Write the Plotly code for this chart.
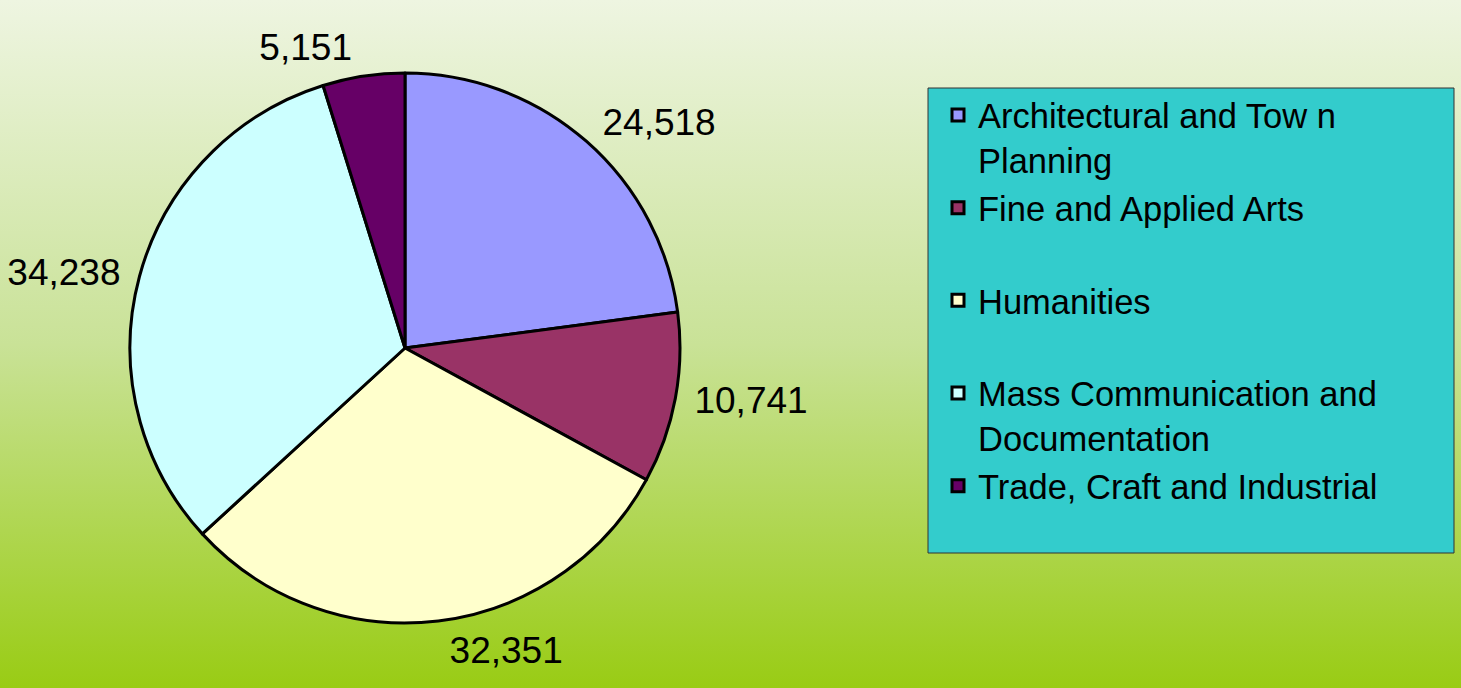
import base64
import plotly.graph_objects as go

# ---- data ----
categories = [
    "Architectural and Tow n<br>Planning",
    "Fine and Applied Arts<br> ",
    "Humanities<br> ",
    "Mass Communication and<br>Documentation",
    "Trade, Craft and Industrial<br> ",
]
values = [24518, 10741, 32351, 34238, 5151]
slice_colors = ["#9999FF", "#993366", "#FFFFCC", "#CCFFFF", "#660066"]

W, H = 1461, 688
FONT = "Liberation Sans, Arial, sans-serif"

# background gradient as an inline SVG image
svg = f'''<svg xmlns="http://www.w3.org/2000/svg" width="{W}" height="{H}" preserveAspectRatio="none">
<defs><linearGradient id="g" x1="0" y1="0" x2="0" y2="1">
<stop offset="0" stop-color="#EEF5E1"/>
<stop offset="0.5" stop-color="#C9E297"/>
<stop offset="1" stop-color="#99CC14"/>
</linearGradient></defs>
<rect x="0" y="0" width="{W}" height="{H}" fill="url(#g)"/></svg>'''
bg_uri = "data:image/svg+xml;base64," + base64.b64encode(svg.encode()).decode()

# pie geometry in pixels (left, right, top, bottom)
pie_box = (130, 680, 73, 623)
label_pad = 9


def dom(l, r, t, b):
    return dict(x=[l / W, r / W], y=[1 - b / H, 1 - t / H])


l, r, t, b = pie_box
fig = go.Figure()

# transparent, slightly larger pie that only carries the value labels
fig.add_trace(go.Pie(
    labels=categories,
    values=values,
    sort=False,
    direction="clockwise",
    rotation=0,
    marker=dict(colors=["rgba(0,0,0,0)"] * len(values), line=dict(width=0)),
    texttemplate="%{value:,}",
    textposition="outside",
    textfont=dict(family=FONT, size=37, color="black"),
    domain=dom(l - label_pad, r + label_pad, t - label_pad, b + label_pad),
    hoverinfo="skip",
    showlegend=False,
))

# visible pie
fig.add_trace(go.Pie(
    labels=categories,
    values=values,
    sort=False,
    direction="clockwise",
    rotation=0,
    marker=dict(colors=slice_colors, line=dict(color="black", width=3)),
    textinfo="none",
    domain=dom(l, r, t, b),
    hovertemplate="%{label}: %{value:,}<extra></extra>",
))

fig.update_layout(
    width=W,
    height=H,
    margin=dict(l=0, r=0, t=0, b=0),
    paper_bgcolor="#C9E297",
    images=[dict(source=bg_uri, xref="paper", yref="paper", x=0, y=1,
                 sizex=1, sizey=1, sizing="stretch", layer="below",
                 xanchor="left", yanchor="top")],
    shapes=[dict(type="rect", xref="paper", yref="paper",
                 x0=928 / W, x1=1454 / W, y0=1 - 553 / H, y1=1 - 88 / H,
                 fillcolor="#33CCCC", line=dict(color="#333333", width=1),
                 layer="below")],
    legend=dict(
        x=938 / W, y=1 - 86 / H, xanchor="left", yanchor="top",
        bgcolor="rgba(0,0,0,0)",
        font=dict(family=FONT, size=34.5, color="black"),
        valign="top",
        tracegroupgap=0,
    ),
    showlegend=True,
)

fig.write_html("out.html")
